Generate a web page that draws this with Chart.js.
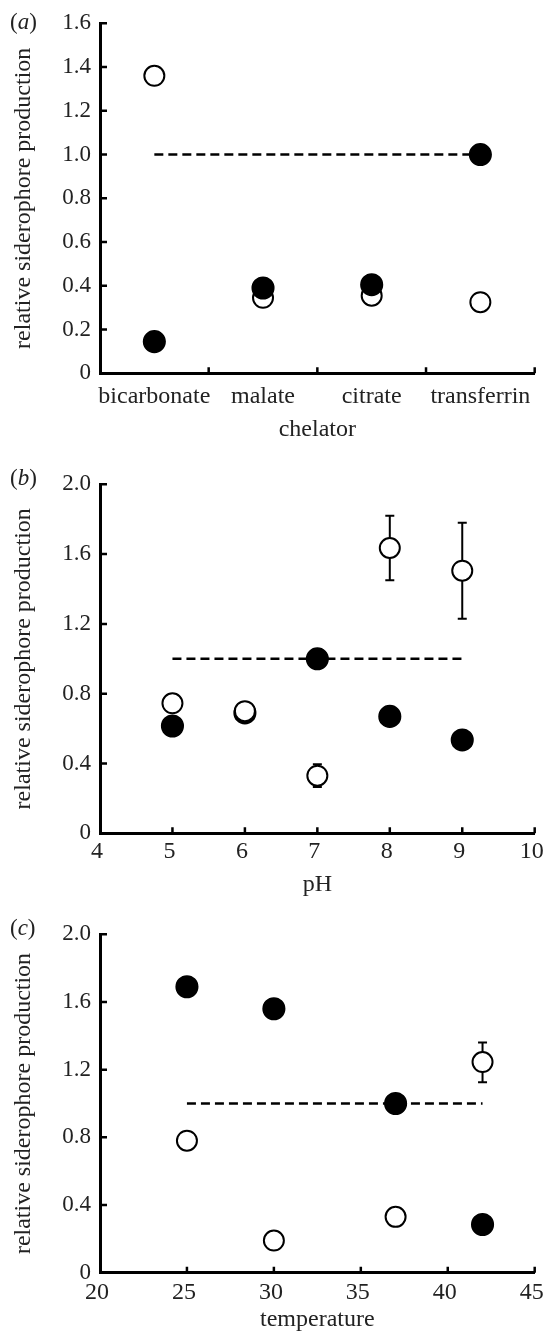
<!DOCTYPE html>
<html>
<head>
<meta charset="utf-8">
<script src="https://cdn.jsdelivr.net/npm/chart.js@4.4.1/dist/chart.umd.min.js"></script>
<style>
  html, body { margin: 0; padding: 0; background: #fff; }
  #wrap { position: relative; width: 547px; height: 1341px; }
  canvas { position: absolute; left: 0; }
</style>
</head>
<body>
<div id="wrap">
  <canvas id="chartA" width="547" height="450" style="top:0;width:547px;height:450px"></canvas>
  <canvas id="chartB" width="547" height="450" style="top:450px;width:547px;height:450px"></canvas>
  <canvas id="chartC" width="547" height="441" style="top:900px;width:547px;height:441px"></canvas>
</div>
<script>
const serif = "'Liberation Serif', 'Times New Roman', serif";
const ink = '#222';

// (a) chelator
const chelators = ['bicarbonate', 'malate', 'citrate', 'transferrin'];
const chelOpen = [1.36, 0.345, 0.355, 0.325];
const chelFilled = [0.145, 0.39, 0.405, 1.0];
const chelRefRange = ['bicarbonate', 'transferrin'];
const chelYTicks = [0, 0.2, 0.4, 0.6, 0.8, 1.0, 1.2, 1.4, 1.6];

// (b) pH
const phValues = [5, 6, 7, 8, 9];
const phOpen = [0.745, 0.70, 0.33, 1.635, 1.505];
const phOpenLow = [null, null, 0.265, 1.45, 1.23];
const phOpenHigh = [null, null, 0.395, 1.82, 1.78];
const phFilled = [0.615, 0.69, 1.0, 0.67, 0.535];
const phRefRange = [5, 9];
const phXTicks = [4, 5, 6, 7, 8, 9, 10];

// (c) temperature
const temps = [25, 30, 37, 42];
const tempOpen = [0.78, 0.19, 0.33, 1.245];
const tempOpenLow = [null, null, null, 1.125];
const tempOpenHigh = [null, null, null, 1.36];
const tempFilled = [1.69, 1.56, 1.0, 0.285];
const tempRefRange = [25, 42];
const tempXTicks = [20, 25, 30, 35, 40, 45];

const yTicks2 = [0, 0.4, 0.8, 1.2, 1.6, 2.0];
const refLevel = 1.0;

// short ticks pointing into the plot
const innerTicks = {
  id: 'innerTicks',
  afterDraw(chart) {
    const { ctx, chartArea: a, scales: { x, y } } = chart;
    ctx.save();
    ctx.strokeStyle = '#000';
    ctx.lineWidth = 2.5;
    ctx.beginPath();
    y.ticks.forEach(t => {
      if (t.value === y.min) return;
      const py = y.getPixelForValue(t.value);
      ctx.moveTo(a.left, py);
      ctx.lineTo(a.left + 7, py);
    });
    const xs = x.type === 'category'
      ? x.getLabels().map((_, i) => i + 0.5)
      : x.ticks.map(t => t.value).filter(v => v !== x.min);
    xs.forEach(v => {
      const px = x.getPixelForValue(v);
      ctx.moveTo(px, a.bottom);
      ctx.lineTo(px, a.bottom - 6);
    });
    ctx.stroke();
    ctx.restore();
  }
};

function errorBars(xs, low, high) {
  return {
    id: 'errorBars',
    beforeDatasetsDraw(chart) {
      const { ctx, scales: { x, y } } = chart;
      ctx.save();
      ctx.strokeStyle = '#000';
      ctx.lineWidth = 2;
      xs.forEach((xv, i) => {
        if (low[i] == null) return;
        const px = x.getPixelForValue(xv);
        const y1 = y.getPixelForValue(low[i]);
        const y2 = y.getPixelForValue(high[i]);
        ctx.beginPath();
        ctx.moveTo(px, y1); ctx.lineTo(px, y2);
        ctx.moveTo(px - 4.5, y1); ctx.lineTo(px + 4.5, y1);
        ctx.moveTo(px - 4.5, y2); ctx.lineTo(px + 4.5, y2);
        ctx.stroke();
      });
      ctx.restore();
    }
  };
}

function panelTag(letter, ty) {
  return {
    id: 'panelTag',
    afterDraw(chart) {
      const ctx = chart.ctx;
      ctx.save();
      ctx.fillStyle = ink;
      ctx.textBaseline = 'middle';
      let tx = 10;
      [['(', ''], [letter, 'italic '], [')', '']].forEach(([s, st]) => {
        ctx.font = st + '23px ' + serif;
        ctx.fillText(s, tx, ty);
        tx += ctx.measureText(s).width;
      });
      ctx.restore();
    }
  };
}

function yScale(ticks) {
  return {
    type: 'linear',
    min: 0,
    max: ticks[ticks.length - 1],
    afterBuildTicks: s => { s.ticks = ticks.map(v => ({ value: v })); },
    afterFit: s => { s.width = 100; s.paddingTop = 0; s.paddingBottom = 0; },
    grid: { display: false, drawTicks: false },
    border: { color: '#000', width: 3 },
    ticks: {
      padding: 9, color: ink, font: { family: serif, size: 23 },
      callback: v => v === 0 ? '0' : v.toFixed(1)
    },
    title: {
      display: true, text: 'relative siderophore production', color: ink,
      font: { family: serif, size: 24 }, padding: { top: 9, bottom: 0 }
    }
  };
}

function xLinear(ticks, title, height, pad, titlePad) {
  return {
    type: 'linear',
    min: ticks[0],
    max: ticks[ticks.length - 1],
    afterBuildTicks: s => { s.ticks = ticks.map(v => ({ value: v })); },
    afterFit: s => { s.height = height; s.paddingLeft = 0; s.paddingRight = 0; },
    grid: { display: false, drawTicks: false },
    border: { color: '#000', width: 3 },
    ticks: {
      padding: pad, color: ink, font: { family: serif, size: 24 },
      maxRotation: 0, autoSkip: false, labelOffset: -3
    },
    title: {
      display: true, text: title, color: ink,
      font: { family: serif, size: 24 }, padding: { top: 0, bottom: titlePad }
    }
  };
}

const openStyle = { pointRadius: 10, pointBackgroundColor: '#fff', pointBorderColor: '#000', pointBorderWidth: 2, showLine: false };
const filledStyle = { pointRadius: 10.8, pointBackgroundColor: '#000', pointBorderColor: '#000', pointBorderWidth: 1.5, showLine: false };
const refStyle = { showLine: true, borderColor: '#000', borderWidth: 2.5, borderDash: [9, 5], pointRadius: 0, fill: false };

const common = {
  responsive: false,
  animation: false,
  devicePixelRatio: 1,
  events: [],
  plugins: { legend: { display: false }, tooltip: { enabled: false } }
};

// (a)
new Chart(document.getElementById('chartA'), {
  type: 'line',
  data: {
    labels: chelators,
    datasets: [
      { data: chelFilled, ...filledStyle },
      { data: chelOpen, ...openStyle },
      { data: chelRefRange.map(c => ({ x: c, y: refLevel })), ...refStyle }
    ]
  },
  options: {
    ...common,
    layout: { padding: { top: 23.3, right: 10, left: 0, bottom: 0 } },
    scales: {
      x: {
        type: 'category',
        offset: true,
        afterFit: s => { s.height = 76.7; s.paddingLeft = 0; s.paddingRight = 0; },
        grid: { display: false, drawTicks: false },
        border: { color: '#000', width: 3 },
        ticks: { padding: 9, color: ink, font: { family: serif, size: 24 }, maxRotation: 0, autoSkip: false },
        title: { display: true, text: 'chelator', color: ink, font: { family: serif, size: 24 }, padding: { top: 0, bottom: 5.6 } }
      },
      y: yScale(chelYTicks)
    }
  },
  plugins: [innerTicks, panelTag('a', 23)]
});

// (b)
new Chart(document.getElementById('chartB'), {
  type: 'scatter',
  data: {
    datasets: [
      { data: phValues.map((x, i) => ({ x, y: phOpen[i] })), ...openStyle },
      { data: phValues.map((x, i) => ({ x, y: phFilled[i] })), ...filledStyle },
      { data: phRefRange.map(x => ({ x, y: refLevel })), ...refStyle }
    ]
  },
  options: {
    ...common,
    layout: { padding: { top: 34.3, right: 10, left: 0, bottom: 0 } },
    scales: {
      x: xLinear(phXTicks, 'pH', 66.7, 4, 0.6),
      y: yScale(yTicks2)
    }
  },
  plugins: [innerTicks, errorBars(phValues, phOpenLow, phOpenHigh), panelTag('b', 28.6)]
});

// (c)
new Chart(document.getElementById('chartC'), {
  type: 'scatter',
  data: {
    datasets: [
      { data: temps.map((x, i) => ({ x, y: tempOpen[i] })), ...openStyle },
      { data: temps.map((x, i) => ({ x, y: tempFilled[i] })), ...filledStyle },
      { data: tempRefRange.map(x => ({ x, y: refLevel })), ...refStyle }
    ]
  },
  options: {
    ...common,
    layout: { padding: { top: 34.3, right: 10, left: 0, bottom: 0 } },
    scales: {
      x: xLinear(tempXTicks, 'temperature', 68.3, 5.6, 6.6),
      y: yScale(yTicks2)
    }
  },
  plugins: [innerTicks, errorBars(temps, tempOpenLow, tempOpenHigh), panelTag('c', 28.6)]
});
</script>
</body>
</html>
